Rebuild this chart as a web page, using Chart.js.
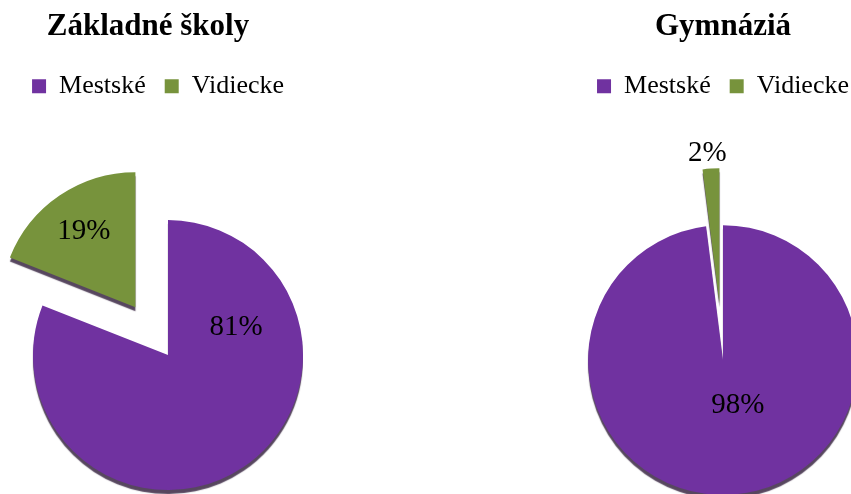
<!DOCTYPE html>
<html>
<head>
<meta charset="utf-8">
<script src="https://cdn.jsdelivr.net/npm/chart.js@4.4.1/dist/chart.umd.min.js"></script>
<style>
html, body { margin: 0; padding: 0; background: #ffffff; }
body { width: 851px; height: 494px; overflow: hidden; position: relative; }
canvas { position: absolute; top: 0; }
#zsChart { left: -7px; }
#gymChart { left: 568px; }
</style>
</head>
<body>
<canvas id="zsChart" width="310" height="601"></canvas>
<canvas id="gymChart" width="310" height="495"></canvas>
<script>
// ---- data ----
const categories = ['Mestské', 'Vidiecke'];
const zsTitle = 'Základné školy';
const gymTitle = 'Gymnáziá';
const zsValues = [81, 19];
const gymValues = [98, 2];

// ---- style ----
const sliceColors = ['#7032A0', '#77933C'];
const serif = "'Liberation Serif', 'Times New Roman', serif";

// exploded slice: pull distance per slice (px)
const explodePlugin = {
  id: 'explode',
  afterDatasetsUpdate(chart, args, opts) {
    const meta = chart.getDatasetMeta(0);
    meta.data.forEach((arc, i) => {
      const d = (opts.distances || [])[i] || 0;
      if (!d) return;
      const mid = (arc.startAngle + arc.endAngle) / 2;
      arc.x += Math.cos(mid) * d;
      arc.y += Math.sin(mid) * d;
    });
  }
};

// thin dark rim under slices (3D look)
const edgePlugin = {
  id: 'edge',
  beforeDatasetDraw(chart) {
    const ctx = chart.ctx;
    ctx.save();
    ctx.shadowColor = 'rgba(45,25,55,0.8)';
    ctx.shadowOffsetY = 4;
    ctx.shadowBlur = 1;
  },
  afterDatasetDraw(chart) {
    chart.ctx.restore();
  }
};

// percentage labels placed inside / outside their slice
const labelPlugin = {
  id: 'sliceLabels',
  afterDatasetsDraw(chart, args, opts) {
    const ctx = chart.ctx;
    const meta = chart.getDatasetMeta(0);
    const values = chart.data.datasets[0].data;
    ctx.save();
    ctx.font = '29px ' + serif;
    ctx.fillStyle = '#000';
    ctx.textAlign = 'center';
    ctx.textBaseline = 'middle';
    meta.data.forEach((arc, i) => {
      const p = arc.getProps(['x', 'y', 'startAngle', 'endAngle', 'outerRadius'], true);
      const a = p.startAngle + (p.endAngle - p.startAngle) * opts.along[i];
      const r = p.outerRadius * opts.radial[i];
      ctx.fillText(values[i] + '%', p.x + Math.cos(a) * r, p.y + Math.sin(a) * r);
    });
    ctx.restore();
  }
};

function buildPie(id, title, values, explode, labelPos, spacer, legendAlign) {
  return new Chart(document.getElementById(id), {
    type: 'pie',
    data: {
      labels: categories,
      datasets: [{
        data: values,
        backgroundColor: sliceColors,
        borderWidth: 0,
        hoverBorderWidth: 0,
        hoverOffset: 0
      }]
    },
    options: {
      responsive: false,
      animation: false,
      events: [],
      devicePixelRatio: 1,
      layout: { padding: 0 },
      plugins: {
        title: {
          display: true,
          text: title,
          color: '#000',
          font: { family: serif, size: 31, weight: 'bold', lineHeight: 1.2 },
          padding: { top: 8, bottom: 9 }
        },
        // empty spacer box that only reserves layout room
        subtitle: Object.assign({
          display: true,
          text: '',
          font: { size: 20, lineHeight: 1 }
        }, spacer),
        legend: {
          display: true,
          position: 'top',
          align: legendAlign,
          labels: {
            color: '#000',
            font: { family: serif, size: 26, lineHeight: 1 },
            boxWidth: 14,
            boxHeight: 14,
            padding: 19
          }
        },
        tooltip: { enabled: false },
        explode: { distances: explode },
        sliceLabels: labelPos
      }
    },
    plugins: [explodePlugin, edgePlugin, labelPlugin]
  });
}

buildPie('zsChart', zsTitle, zsValues, [0, 58],
  { along: [0.232, 0.5], radial: [0.545, 0.68] },
  { position: 'left', padding: { top: 10, bottom: 10 } }, 'end');
buildPie('gymChart', gymTitle, gymValues, [0, 57],
  { along: [0.458, 0.36], radial: [0.35, 1.115] },
  { position: 'top', weight: 500, padding: { top: 48, bottom: 48 } }, 'center');
</script>
</body>
</html>
